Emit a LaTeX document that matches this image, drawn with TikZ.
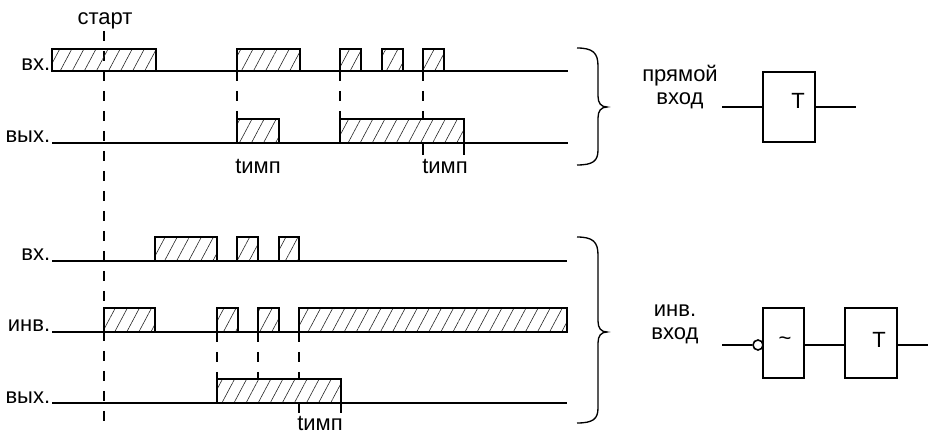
\documentclass[tikz,border=0pt]{standalone}
\usepackage{fontspec}
\setmainfont{Liberation Sans}
\usetikzlibrary{patterns.meta}

\begin{document}
\begin{tikzpicture}[x=0.75pt,y=-0.75pt,thick,
  sig label/.style={anchor=base east,inner xsep=1pt,inner ysep=0pt,font=\fontsize{16.5}{17.25}\selectfont},
  text node/.style={inner sep=0pt,font=\fontsize{16.5}{17.25}\selectfont},
  signal/.style={line width=1.3pt},
  pulse/.style={draw,line width=0.9pt,pattern={Lines[angle=62,distance=8pt,line width=0.45pt]},pattern color=black!85},
  marker/.style={line width=0.8pt,dash pattern=on 7.5pt off 7.5pt},
  tick/.style={line width=0.8pt},
  brace line/.style={line width=1pt},
  gate box/.style={draw,line width=1.2pt,minimum width=39pt,minimum height=52.5pt,inner sep=0pt},
  wire/.style={line width=1.3pt}]
  \useasboundingbox (0,0) rectangle (928,434);

  \node[text node,anchor=base] (start) at (105,25) {старт};
  \draw[marker] (104,31) -- (104,430);

  \node[sig label] (dx) at (52,71) {вх.};
  \node[sig label] (dy) at (52,143) {вых.};
  \draw[pulse] (52,49) rectangle (156,71);
  \draw[pulse] (237,49) rectangle (300,71);
  \draw[pulse] (340,49) rectangle (361,71);
  \draw[pulse] (382,49) rectangle (403,71);
  \draw[pulse] (423,49) rectangle (444,71);
  \draw[pulse] (237,119) rectangle (279,143);
  \draw[pulse] (340,119) rectangle (464,143);
  \draw[signal] (dx.base east) -- (568,71);
  \draw[signal] (dy.base east) -- (568,143);
  \draw[marker] (237,71) -- (237,119);
  \draw[marker] (340,71) -- (340,119);
  \draw[marker] (423,71) -- (423,119);
  \draw[tick] (423,143) -- (423,155);
  \draw[tick] (464,143) -- (464,155);
  \node[text node,anchor=base] (ti1) at (258,174) {tимп};
  \node[text node,anchor=base] (ti2) at (445,174) {tимп};

  \node[sig label] (ix) at (52,261) {вх.};
  \node[sig label] (ii) at (52,332) {инв.};
  \node[sig label] (iy) at (52,403) {вых.};
  \draw[pulse] (155,237) rectangle (217,261);
  \draw[pulse] (237,237) rectangle (258,261);
  \draw[pulse] (279,237) rectangle (299,261);
  \draw[pulse] (104,308) rectangle (155,332);
  \draw[pulse] (217,308) rectangle (238,332);
  \draw[pulse] (258,308) rectangle (279,332);
  \draw[pulse] (299,308) rectangle (567,332);
  \draw[pulse] (217,379) rectangle (341,403);
  \draw[signal] (ix.base east) -- (567,261);
  \draw[signal] (ii.base east) -- (567,332);
  \draw[signal] (iy.base east) -- (567,403);
  \draw[marker] (217,332) -- (217,379);
  \draw[marker] (258,332) -- (258,379);
  \draw[marker] (299,332) -- (299,379);
  \draw[tick] (299,403) -- (299,413);
  \draw[tick] (341,403) -- (341,413);
  \node[text node,anchor=base] (ti3) at (320,431) {tимп};

  \draw[brace line] (577,48) .. controls (593,48) and (598,53) .. (598,66) -- (598,96)
    .. controls (598,103) and (601,107) .. (607,107) .. controls (601,107) and (598,111) .. (598,118)
    -- (598,150) .. controls (598,161) and (593,165) .. (577,165);
  \draw[brace line] (577,237) .. controls (593,237) and (598,242) .. (598,255) -- (598,321)
    .. controls (598,328) and (601,332) .. (607,332) .. controls (601,332) and (598,336) .. (598,343)
    -- (598,408) .. controls (598,419) and (593,423) .. (577,423);

  \node[text node,align=center,anchor=base] (direct) at (680,105) {прямой\\вход};
  \node[gate box] (T1) at (789,107) {};
  \node[text node] (T1 text) at (798,101) {T};
  \coordinate (d in) at (722,107);
  \coordinate (d out) at (856,107);
  \path[wire] (d in) edge (T1)
    (T1) edge (d out);

  \node[text node,align=center,anchor=base] (inverse) at (675,340) {инв.\\вход};
  \node[draw,circle,inner sep=0pt,minimum size=7.5pt,line width=1.2pt] (neg) at (758,345) {};
  \node[gate box,minimum width=30.75pt] (N) at (783.5,343) {};
  \node[text node,anchor=base] (N text) at (785,346) {\textasciitilde};
  \node[gate box] (T2) at (871,343) {};
  \node[text node] (T2 text) at (879,340) {T};
  \coordinate (i in) at (722,345);
  \coordinate (i out) at (928,345);
  \path[wire] (i in) edge (neg)
    (N.east |- neg) edge (T2.west |- neg)
    (T2.east |- neg) edge (i out);
\end{tikzpicture}
\end{document}
